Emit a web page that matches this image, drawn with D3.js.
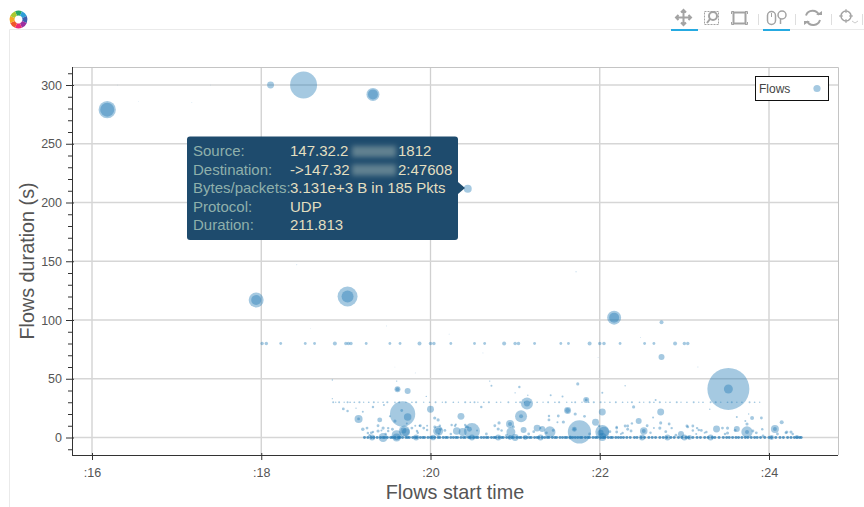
<!DOCTYPE html>
<html>
<head>
<meta charset="utf-8">
<script src="https://cdn.jsdelivr.net/npm/d3@7"></script>
<style>
	body { margin: 0; background: #fff; font-family: "Liberation Sans", Arial, sans-serif; }
	svg { display: block; }
	.tick text { font-family: "Liberation Sans", Arial, sans-serif; }
</style>
</head>
<body>
<div id="chart"></div>
<script>
// axis ticks (start time in minutes, duration in seconds)
var xTicks = [16, 18, 20, 22, 24];
var yTicks = [0, 50, 100, 150, 200, 250, 300];
var yMinorTicks = [-10, 10, 20, 30, 40, 60, 70, 80, 90, 110, 120, 130, 140, 160, 170, 180, 190, 210, 220, 230, 240, 260, 270, 280, 290, 310];

// the flows that can be told apart by eye
var bubbleStart = [16.18, 16.18, 18.11, 18.50, 19.32, 19.32, 20.44, 17.94, 17.94, 19.02, 19.02, 22.17, 22.17, 22.73, 22.73, 23.52, 23.52,
	19.67, 19.73, 19.61, 19.61, 19.73, 19.15, 19.15, 19.40, 19.20, 20.00, 20.36, 21.14, 21.14, 21.07, 21.07, 20.94, 20.94, 21.62, 21.62,
	20.95, 19.69, 19.71, 19.68, 19.60, 20.49, 20.46, 20.09, 20.09, 20.31, 20.38, 19.44, 19.60, 19.31, 20.03, 20.49, 20.80, 20.94, 21.10,
	21.26, 21.41, 21.32, 21.76, 21.70, 21.84, 21.84, 22.03, 21.95, 22.03, 22.05, 22.01, 22.03, 22.72, 22.46, 22.52, 22.52, 23.38, 23.74,
	23.74, 24.07, 24.07, 24.15, 23.62, 22.96, 23.80, 23.91, 21.74, 22.40, 22.50, 22.80, 23.00, 23.06, 23.31, 24.03, 24.33,
	19.83, 21.00, 21.12, 21.30, 21.65];
var bubbleDuration = [279, 279, 300, 300, 292, 292, 211.8, 117, 117, 120, 120, 102, 102, 98, 68.6, 41.3, 41.3,
	20, 17.5, 41, 41, 39.6, 15.8, 15.8, 15, 7, 24, 18, 29, 29, 18, 18, 11.5, 11.5, 23, 23,
	4.7, 5.5, 4.5, 6, 2, 5.5, 7, 5.5, 5.5, 5.5, 4.7, 0, 0, 0, 0, 0, 0, 0, 6.4,
	8, 4.7, 7.2, 4.7, 7, 32, 32, 21.7, 13, 4.7, 5, 4, 0.4, 21.7, 14, 5.5, 5.5, 7.2, 4.7,
	4.7, 7.2, 7.2, 13, 7.2, 3, 16.6, 16.6, 45.6, 26, 0, 0, 0, 0, 0, 0, 0.4,
	0, 0, 0, 0, 0];
var bubbleBytes = [75, 49, 12, 182, 42, 25, 16, 56, 25, 100, 36, 49, 25, 4, 9, 441, 20,
	160, 14, 9, 4, 9, 16, 2, 6, 3, 12, 12, 36, 9, 36, 4, 16, 4, 12, 6,
	20, 30, 16, 9, 25, 64, 6, 25, 9, 14, 16, 20, 16, 9, 8, 9, 9, 6, 9,
	12, 32, 9, 135, 6, 9, 2, 12, 12, 49, 25, 9, 16, 12, 9, 14, 4, 12, 32,
	4, 16, 4, 4, 9, 9, 4, 2, 2.5, 2.5, 9, 9, 9, 6, 9, 6, 4,
	9, 12, 6, 9, 4];

// the row of flows around 80 s
var row80Start = [18.01, 18.06, 18.23, 18.52, 18.63, 18.87, 19.00, 19.03, 19.06, 19.24, 19.52, 19.64, 19.87, 20.00, 20.04, 20.24, 20.52, 20.64, 20.87, 21.00, 21.04, 21.23,
	21.54, 21.63, 21.88, 22.00, 22.05, 22.24, 22.53, 22.64, 22.89, 23.00, 23.04];
var row80Bytes = [3, 3, 2, 2, 2, 4, 3, 3, 3, 2, 2, 2, 4, 3, 3, 2, 2, 2, 4, 3, 3, 2, 2, 2, 4, 3, 3, 2, 2, 2, 4, 3, 3];

// the thin row at about 30 s
var row30Start = [18.85, 18.88, 18.92, 18.98, 19.02, 19.05, 19.10, 19.16, 19.21, 19.27, 19.33, 19.38, 19.44, 19.49, 19.58, 19.63, 19.71, 19.78, 19.83, 19.92, 19.99, 20.06, 20.14, 20.18, 20.27, 20.33, 20.41, 20.47, 20.52, 20.56, 20.63, 20.69, 20.78, 20.83, 20.92,
	21.01, 21.06, 21.11, 21.18, 21.26, 21.33, 21.39, 21.47, 21.52, 21.61, 21.67, 21.71, 21.79, 21.87, 21.93, 22.01, 22.06, 22.12, 22.19, 22.27, 22.33, 22.38, 22.47, 22.52, 22.59, 22.64, 22.71, 22.78, 22.83,
	22.91, 22.96, 23.03, 23.11, 23.17, 23.22, 23.31, 23.37, 23.43, 23.51, 23.56, 23.62, 23.68, 23.77, 23.83, 23.89];
var row30Bytes = [1, 0.5, 1, 0.5, 1, 0.7, 0.7, 1.2, 0.5, 0.7, 1, 0.5, 0.7, 1.2, 0.7, 1, 0.5, 0.7, 1.2, 0.5, 0.7, 1, 0.5, 1, 0.7, 0.5, 1.2, 0.7, 1, 0.5, 0.7, 1.2, 0.7, 0.5, 1,
	0.7, 1.2, 0.5, 1, 0.7, 0.5, 1, 0.7, 1.2, 0.5, 0.7, 1, 0.5, 0.7, 1.2, 1, 0.5, 0.7, 1, 0.7, 0.5, 1.2, 0.7, 0.5, 1, 0.7, 1.2, 0.5, 0.7,
	1, 0.5, 0.7, 1, 0.5, 0.7, 1, 1.2, 0.5, 0.7, 1, 0.5, 0.7, 1, 0.7, 0.5];

// the dense row of very short flows
var baselineStart = [19.22, 19.26, 19.30, 19.33, 19.37, 19.41, 19.44, 19.46, 19.49, 19.53, 19.55, 19.58, 19.62, 19.64, 19.67, 19.71, 19.73, 19.75, 19.79, 19.82, 19.84, 19.88, 19.91, 19.93, 19.97, 20.00, 20.02, 20.05,
	20.09, 20.11, 20.15, 20.18, 20.20, 20.24, 20.27, 20.30, 20.32, 20.36, 20.39, 20.41, 20.45, 20.47, 20.51, 20.54, 20.56, 20.60, 20.63, 20.66, 20.68, 20.72, 20.75, 20.77, 20.81, 20.84, 20.86, 20.90, 20.93, 20.96,
	20.98, 21.02, 21.05, 21.07, 21.11, 21.14, 21.17, 21.19, 21.23, 21.26, 21.28, 21.32, 21.35, 21.38, 21.40, 21.44, 21.47, 21.49, 21.53, 21.56, 21.59, 21.61, 21.65, 21.68, 21.71, 21.74, 21.77, 21.79, 21.83, 21.86,
	21.88, 21.92, 21.95, 21.97, 22.01, 22.04, 22.06, 22.10, 22.13, 22.15, 22.19, 22.22, 22.25, 22.28, 22.32, 22.36, 22.41, 22.44, 22.49, 22.53, 22.58, 22.62, 22.66, 22.71, 22.75, 22.79, 22.84, 22.88, 22.93, 22.97,
	23.02, 23.05, 23.10, 23.15, 23.19, 23.24, 23.28, 23.33, 23.36, 23.41, 23.46, 23.50, 23.53, 23.57, 23.61, 23.64, 23.68, 23.72, 23.75, 23.79, 23.83, 23.86, 23.90, 23.95, 24.00, 24.03, 24.08, 24.13, 24.17, 24.22,
	24.26, 24.30, 24.33, 24.36, 24.38];

// small scattered flows
var scatterStart = [18.84, 18.84, 19.12, 19.20, 19.25, 19.30, 19.38, 19.42, 19.47, 19.52, 19.55, 19.66, 19.72, 19.78, 19.85, 19.88, 19.92, 19.95, 20.05, 20.10, 20.12, 20.17, 20.24, 20.30, 20.42, 20.55, 20.60, 20.66, 20.72,
	20.76, 20.84, 20.90, 20.98, 21.05, 21.16, 21.22, 21.30, 21.37, 21.45, 21.50, 21.56, 21.70, 21.82, 21.88, 21.99, 22.03, 22.12, 22.20, 22.25, 22.33, 22.38, 22.56, 22.60, 22.63, 22.78, 22.85, 22.90, 23.04, 23.10, 23.14,
	23.20, 23.24, 23.45, 23.48, 23.60, 23.72, 23.85, 23.92, 24.20, 24.28, 24.10, 19.60, 20.70, 21.00, 21.42, 21.15, 22.30, 22.66, 23.30, 23.76,
	16.30, 16.55, 17.18, 17.40, 18.42, 18.58, 19.58, 19.82, 20.62, 21.72, 21.98, 22.48, 23.16, 19.48, 20.22,
	18.97, 19.02, 19.32, 19.45, 19.58, 19.44, 19.38, 19.32, 19.26, 19.28, 19.50, 19.50, 19.82, 19.87, 19.96, 19.84, 19.96, 20.05, 20.09, 20.11, 20.25, 20.29, 20.41, 20.44,
	20.81, 20.80, 21.51, 21.40, 21.40, 21.57, 21.71, 22.20, 22.30, 22.33, 22.20, 22.27, 22.37, 22.72, 22.71, 22.64, 22.82, 23.03, 23.10, 23.15, 23.17, 23.26, 23.51, 23.51, 23.74, 23.81, 24.21, 24.26, 23.93, 23.62];
var scatterDuration = [49, 33, 25, 22, 8, 4, 10, 6, 3, 18, 7, 23, 12, 8, 4, 10, 8, 35, 9, 3, 7, 6, 3, 11, 9, 6, 26, 3, 44,
	10, 6, 2, 9, 43, 3, 5, 8, 4, 6, 13, 35, 7, 18, 3, 10, 38, 5, 8, 3, 7, 12, 10, 4, 17, 5, 8, 2, 9, 6, 3,
	6, 4, 8, 3, 6, 14, 4, 7, 4, 3, 3, 48, 48, 38, 36, 36, 44, 32, 24, 20,
	300, 286, 285, 300, 147, 93, 60, 55, 72, 141, 68, 85, 60, 95, 88,
	24.3, 22.6, 26, 27.7, 14, 8, 5.5, 4.7, 3.8, 2, 8, 5.5, 10, 10, 10, 5.5, 6.4, 16.6, 15, 10, 10.6, 10, 10.6, 9,
	12.4, 7.2, 18.3, 18.3, 15, 13.2, 20, 9, 9.8, 9.8, 4.7, 3.8, 5.5, 12.4, 8, 8, 11.5, 9.8, 9.8, 8, 6.4, 4.7, 8, 3.8, 11.5, 5.5, 4.7, 4.7, 1.3, 17.5];
var scatterBytes = [0.5, 0.4, 0.5, 1, 2, 2, 2, 1, 1.5, 1, 2, 2, 1, 2, 1.5, 2, 2, 0.5, 2, 1, 2, 2, 1.5, 1, 2, 1, 1.5, 2, 1,
	2, 1.5, 2, 2, 1.5, 2, 2, 1, 2, 2, 1, 1, 2, 2, 2, 1.5, 1, 2, 2, 1, 2, 1.5, 2, 1.5, 1, 2, 1.5, 2, 2, 1.5, 1,
	2, 1, 2, 1.5, 2, 1, 2, 1.5, 2, 1.5, 2, 0.5, 0.5, 0.5, 1, 0.5, 0.5, 1, 0.5, 0.5,
	0.1, 0.1, 0.1, 0.1, 0.2, 0.1, 0.1, 0.2, 0.2, 0.3, 0.2, 0.2, 0.2, 0.2, 0.2,
	2, 1.5, 1.5, 1, 2.5, 2.5, 2.5, 1.5, 1.5, 1.5, 1.5, 1.5, 1, 1, 1, 1.5, 1.5, 2.5, 2.5, 1.5, 1.5, 1.5, 1.5, 1.5,
	2.5, 2.5, 2, 1.5, 2, 2.5, 2.5, 1.5, 2, 2, 2, 1.5, 2, 2.5, 2.5, 1, 2, 2, 2, 1.5, 1.5, 1.5, 2.5, 2.5, 2.5, 2, 2.5, 2.5, 2, 1];

// tooltip rows
var tipLabels = ["Source:", "Destination:", "Bytes/packets:", "Protocol:", "Duration:"];
var tipValues = ["147.32.2", "->147.32", "3.131e+3 B in 185 Pkts", "UDP", "211.813"];
var tipTails = ["1812", "2:47608", "", "", ""];

var logoColors = ["#27a866", "#2d9fd8", "#3c5fb0", "#9b2fa0", "#ec2a77", "#f0562b", "#f6a623", "#a8c92f"];

var width = 864,
	height = 507,
	margin = { left: 72, right: 26, top: 67, bottom: 52 };

var svg = d3.select("#chart").append("svg")
	.attr("width", width)
	.attr("height", height);

// calibrated on the tick positions of the picture
var xScale = d3.scaleLinear().domain([16, 24]).range([92, 769]);
var yScale = d3.scaleLinear().domain([0, 300]).range([437.5, 85]);
var rScale = d3.scaleSqrt().domain([0, 441]).range([0, 21]);

// page border
svg.append("path")
	.attr("d", "M9.5,507V29.5H864")
	.attr("fill", "none")
	.attr("stroke", "#eaeaea");

// grid
var grid = svg.append("g").attr("class", "grid");

grid.selectAll("line.gx").data(xTicks).enter().append("line")
	.attr("class", "gx")
	.attr("x1", function(d) { return xScale(d); })
	.attr("x2", function(d) { return xScale(d); })
	.attr("y1", margin.top)
	.attr("y2", height - margin.bottom)
	.attr("stroke", "#d0d0d0")
	.attr("stroke-width", 1.3);

grid.selectAll("line.gy").data(yTicks).enter().append("line")
	.attr("class", "gy")
	.attr("x1", margin.left)
	.attr("x2", width - margin.right)
	.attr("y1", function(d) { return yScale(d); })
	.attr("y2", function(d) { return yScale(d); })
	.attr("stroke", "#d6d6d6")
	.attr("stroke-width", 1.3);

// frame, top and right sides only, the axes do the others
svg.append("path")
	.attr("d", "M72,67.5H838.5V455")
	.attr("fill", "none")
	.attr("stroke", "#c4c4c4");

// flows
var flows = svg.append("g").attr("class", "flows").attr("fill", "#1f77b4");

function addDots(starts, durationOf, bytesOf, alpha) {
	flows.append("g").selectAll("circle").data(starts).enter().append("circle")
		.attr("cx", function(d) { return xScale(d); })
		.attr("cy", function(d, i) { return yScale(durationOf(i)); })
		.attr("r", function(d, i) { return rScale(bytesOf(i)); })
		.attr("fill-opacity", alpha);
}

addDots(scatterStart, function(i) { return scatterDuration[i]; }, function(i) { return scatterBytes[i]; }, 0.4);
addDots(row80Start, function() { return 80; }, function(i) { return row80Bytes[i]; }, 0.4);
addDots(row30Start, function() { return 30; }, function(i) { return row30Bytes[i]; }, 0.4);
addDots(bubbleStart, function(i) { return bubbleDuration[i]; }, function(i) { return bubbleBytes[i]; }, 0.4);
addDots(baselineStart, function() { return 0; }, function() { return 2.2; }, 0.7);

// axes
var xAxis = d3.axisBottom(xScale)
	.tickValues(xTicks)
	.tickSizeInner(5)
	.tickSizeOuter(0)
	.tickPadding(8)
	.tickFormat(function(d) { return ":" + d; });

var yAxis = d3.axisLeft(yScale)
	.tickValues(yTicks)
	.tickSizeInner(6)
	.tickSizeOuter(0)
	.tickPadding(4);

var yMinor = d3.axisLeft(yScale)
	.tickValues(yMinorTicks)
	.tickSizeInner(4)
	.tickSizeOuter(0)
	.tickFormat("");

var gx = svg.append("g")
	.attr("transform", "translate(0,455)")
	.call(xAxis);
gx.select(".domain").attr("d", "M72,0.5H838").attr("stroke", "#333");
gx.selectAll(".tick line").attr("y1", -2).attr("stroke", "#333");
gx.selectAll(".tick text").attr("font-size", 12.5).attr("fill", "#555");

var gy = svg.append("g")
	.attr("transform", "translate(72,0)")
	.call(yAxis);
gy.select(".domain").attr("d", "M0.5,67V455").attr("stroke", "#333");
gy.selectAll(".tick line").attr("x2", -6).attr("x1", 2).attr("stroke", "#333");
gy.selectAll(".tick text").attr("font-size", 12.5).attr("fill", "#555");

var gyMinor = svg.append("g")
	.attr("transform", "translate(72,0)")
	.call(yMinor);
gyMinor.select(".domain").remove();
gyMinor.selectAll(".tick line").attr("stroke", "#333");

// axis labels
svg.append("text")
	.attr("x", 455)
	.attr("y", 499)
	.attr("text-anchor", "middle")
	.attr("font-size", 19.8)
	.attr("fill", "#555")
	.text("Flows start time");

svg.append("text")
	.attr("transform", "translate(34,261) rotate(-90)")
	.attr("text-anchor", "middle")
	.attr("font-size", 19.8)
	.attr("fill", "#555")
	.text("Flows duration (s)");

// legend
var legend = svg.append("g").attr("class", "legend");

legend.append("rect")
	.attr("x", 755.5)
	.attr("y", 76.5)
	.attr("width", 73)
	.attr("height", 24)
	.attr("fill", "#fff")
	.attr("stroke", "#111");

legend.append("text")
	.attr("x", 759)
	.attr("y", 92.5)
	.attr("font-size", 12)
	.attr("fill", "#444")
	.text("Flows");

legend.append("circle")
	.attr("cx", 817)
	.attr("cy", 88.5)
	.attr("r", 3.6)
	.attr("fill", "#1f77b4")
	.attr("fill-opacity", 0.4);

// tooltip
var defs = svg.append("defs");
defs.append("filter").attr("id", "blur")
	.attr("x", "-30%").attr("y", "-50%").attr("width", "160%").attr("height", "200%")
	.append("feGaussianBlur").attr("stdDeviation", 2.5);

var tip = svg.append("g").attr("class", "tooltip");

tip.append("rect")
	.attr("x", 187)
	.attr("y", 136.5)
	.attr("width", 271)
	.attr("height", 103.5)
	.attr("rx", 3)
	.attr("fill", "#1e4b6d");

tip.append("path")
	.attr("d", "M458,182L465,188L458,194Z")
	.attr("fill", "#1e4b6d");

var tipRow = tip.selectAll("g.row").data(tipLabels).enter().append("g")
	.attr("class", "row")
	.attr("transform", function(d, i) { return "translate(0," + (156 + i * 18.5) + ")"; })
	.attr("font-size", 15);

tipRow.append("text").attr("x", 193).attr("fill", "#8fb0ab").text(function(d) { return d; });
tipRow.append("text").attr("x", 290).attr("fill", "#e3dfc0").text(function(d, i) { return tipValues[i]; });
tipRow.append("text").attr("x", 398).attr("fill", "#e3dfc0").text(function(d, i) { return tipTails[i]; });

// the addresses are blurred out in the screenshot
tip.selectAll("rect.smudge").data(tipTails.slice(0, 2)).enter().append("rect")
	.attr("class", "smudge")
	.attr("x", 352)
	.attr("y", function(d, i) { return 146 + i * 18.5; })
	.attr("width", 44)
	.attr("height", 11)
	.attr("fill", "#8ea5a8")
	.attr("fill-opacity", 0.6)
	.attr("filter", "url(#blur)");

// toolbar
var logo = svg.append("g").attr("transform", "translate(18.5,19.5)");
var logoArc = d3.arc().innerRadius(4).outerRadius(9);
logo.selectAll("path").data(logoColors).enter().append("path")
	.attr("fill", function(d) { return d; })
	.attr("d", function(d, i) {
		return logoArc({ startAngle: (i - 0.5) * Math.PI / 4, endAngle: (i + 0.5) * Math.PI / 4 });
	});

var tools = svg.append("g").attr("fill", "none").attr("stroke", "#a3a3a3");

// pan
tools.append("path").attr("stroke-width", 2)
	.attr("d", "M683.5,10V25M676,17.5H691M681,12.5L683.5,10L686,12.5M681,22.5L683.5,25L686,22.5M678.5,15L676,17.5L678.5,20M688.5,15L691,17.5L688.5,20");
// box zoom
tools.append("rect").attr("x", 704.5).attr("y", 11.5).attr("width", 14).attr("height", 13).attr("stroke-dasharray", "2,1").attr("stroke-width", 1);
tools.append("circle").attr("cx", 713).attr("cy", 16).attr("r", 4).attr("stroke-width", 2).attr("fill", "#fff");
tools.append("path").attr("stroke-width", 2).attr("d", "M710,19L707,23");
// box select
tools.append("rect").attr("x", 733.5).attr("y", 12.5).attr("width", 12).attr("height", 11).attr("stroke-width", 2);
tools.append("path").attr("stroke-width", 1).attr("d", "M731.5,14V11.5H734M745,11.5H747.5V14M747.5,22V24.5H745M734,24.5H731.5V22");
// wheel zoom
tools.append("rect").attr("x", 767.5).attr("y", 11.5).attr("width", 8).attr("height", 13).attr("rx", 4).attr("stroke-width", 1.5);
tools.append("path").attr("stroke-width", 1).attr("d", "M771.5,13V17");
tools.append("circle").attr("cx", 782).attr("cy", 15).attr("r", 4).attr("stroke-width", 1.5);
tools.append("path").attr("stroke-width", 1.5).attr("d", "M780.5,19V24");
// reset
tools.append("path").attr("stroke-width", 2).attr("d", "M806,15.5A7,7 0 0 1 819,15M820,20A7,7 0 0 1 807,21");
tools.append("path").attr("fill", "#a3a3a3").attr("stroke", "none").attr("d", "M816,15H822V11ZM810,21H804V25Z");
// hover
tools.append("circle").attr("cx", 846).attr("cy", 16).attr("r", 5).attr("stroke-width", 1.5);
tools.append("path").attr("stroke-width", 1).attr("d", "M846,9V13M846,19V23M839,16H843M849,16H853");
tools.append("path").attr("stroke-width", 1).attr("stroke", "#ccc").attr("d", "M852,21L855,23L858,21");

// separators
tools.append("path").attr("stroke", "#dedede").attr("stroke-width", 1).attr("d", "M758.5,14V25M795.5,14V25M831.5,14V25M862.5,14V25");

// active tool marks
tools.append("path").attr("stroke", "#26aae1").attr("stroke-width", 2).attr("d", "M671,30H698M763,30H790");
</script>
</body>
</html>
